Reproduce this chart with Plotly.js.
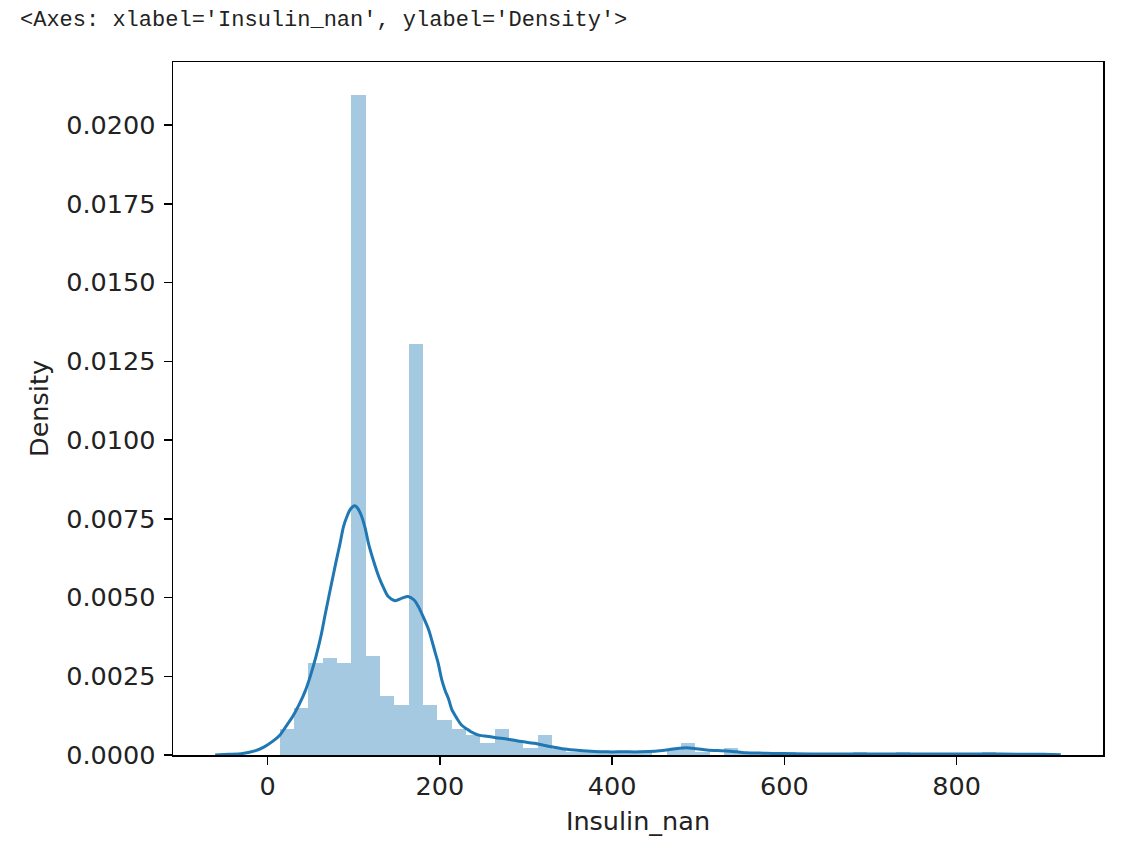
<!DOCTYPE html>
<html>
<head>
<meta charset="utf-8">
<script src="https://cdn.plot.ly/plotly-3.0.1.min.js"></script>
<style>
  html, body { margin: 0; padding: 0; background: #ffffff; }
  #chart { width: 1125px; height: 844px; }
</style>
</head>
<body>
<div id="chart"></div>
<script>
// Histogram (density) of Insulin_nan: 50 equal bins from 14 to 846
const binStart = 14;
const binEnd = 846;
const binDensity = [
  0.00083, 0.00148, 0.00291, 0.00307, 0.00291, 0.02095, 0.00314, 0.00188, 0.00159, 0.01305,
  0.00159, 0.00111, 0.00082, 0.00065, 0.00037, 0.00082, 0.00045, 0.00022, 0.00063, 0.00018,
  0.00010, 0.00016, 0.00008, 0.00008, 0.00008, 0.00008, 0.00000, 0.00016, 0.00039, 0.00008,
  0.00000, 0.00023, 0.00008, 0.00008, 0.00000, 0.00008, 0.00000, 0.00000, 0.00000, 0.00000,
  0.00008, 0.00000, 0.00000, 0.00008, 0.00000, 0.00000, 0.00000, 0.00000, 0.00000, 0.00008
];

// KDE curve
const kdeX = [-61, -45, -29, -15, -4, 6, 14, 21, 29, 37, 44, 50, 56, 62, 67, 73, 79, 84, 88, 92,
  96, 101, 104, 108, 113, 117, 123, 129, 135, 140, 148, 156, 163, 170, 175, 181, 187, 194, 198, 202,
  206, 210, 214, 220, 225, 231, 236, 244, 252, 265, 279, 295, 310, 329, 342, 356, 375, 394, 413, 433,
  450, 463, 476, 486, 498, 510, 522, 533, 545, 556, 570, 586, 609, 650, 700, 750, 800, 850, 900, 921];
const kdeY = [0.00000, 0.00002, 0.00005, 0.00013, 0.00026, 0.00044, 0.00063, 0.00090, 0.00122, 0.00163,
  0.00206, 0.00255, 0.00312, 0.00380, 0.00450, 0.00530, 0.00609, 0.00672, 0.00725, 0.00757,
  0.00780, 0.00791, 0.00785, 0.00765, 0.00722, 0.00672, 0.00615, 0.00566, 0.00528, 0.00503,
  0.00490, 0.00498, 0.00503, 0.00492, 0.00471, 0.00436, 0.00397, 0.00330, 0.00291, 0.00240,
  0.00205, 0.00178, 0.00143, 0.00115, 0.00095, 0.00083, 0.00074, 0.00064, 0.00060, 0.00055,
  0.00050, 0.00043, 0.00037, 0.00026, 0.00020, 0.00016, 0.00012, 0.00010, 0.00010, 0.00010,
  0.00012, 0.00016, 0.00021, 0.00023, 0.00020, 0.00016, 0.00014, 0.00013, 0.00010, 0.00007,
  0.00006, 0.00005, 0.00004, 0.00003, 0.00003, 0.00003, 0.00003, 0.00003, 0.00002, 0.00001];

const xTicks = [0, 200, 400, 600, 800];
const yTicks = [0, 0.0025, 0.005, 0.0075, 0.01, 0.0125, 0.015, 0.0175, 0.02];
const headerText = "<Axes: xlabel='Insulin_nan', ylabel='Density'>";
const xLabel = "Insulin_nan";
const yLabel = "Density";

const nBins = binDensity.length;
const binWidth = (binEnd - binStart) / nBins;
const binCenters = binDensity.map((_, i) => binStart + binWidth * (i + 0.5));

const bars = {
  type: 'bar',
  x: binCenters,
  y: binDensity,
  width: binWidth,
  marker: { color: 'rgba(31,119,180,0.4)', line: { width: 0 } },
  hoverinfo: 'skip',
  showlegend: false
};
const kde = {
  type: 'scatter',
  mode: 'lines',
  x: kdeX,
  y: kdeY,
  line: { color: '#1f77b4', width: 3, shape: 'spline', smoothing: 0.8 },
  hoverinfo: 'skip',
  showlegend: false
};

const axisFont = { family: 'DejaVu Sans', size: 25.5, color: '#222222' };

const layout = {
  width: 1125,
  height: 844,
  margin: { l: 173, r: 22, t: 62, b: 89 },
  paper_bgcolor: '#ffffff',
  plot_bgcolor: '#ffffff',
  bargap: 0,
  font: axisFont,
  xaxis: {
    range: [-110, 970],
    tickvals: xTicks,
    ticktext: xTicks.map(String),
    ticks: 'outside', ticklen: 8, tickwidth: 1.5, tickcolor: '#000',
    showline: true, mirror: true, linecolor: '#000', linewidth: 1.5,
    showgrid: false, zeroline: false,
    tickfont: axisFont,
    title: { text: xLabel, font: axisFont, standoff: 12 }
  },
  yaxis: {
    range: [0, 0.0220],
    tickvals: yTicks,
    ticktext: yTicks.map(v => v.toFixed(4)),
    ticks: 'outside', ticklen: 8, tickwidth: 1.5, tickcolor: '#000',
    ticklabelstandoff: 3,
    showline: true, mirror: true, linecolor: '#000', linewidth: 1.5,
    showgrid: false, zeroline: false,
    tickfont: axisFont,
    title: { text: yLabel, font: axisFont, standoff: 10 }
  },
  annotations: [{
    text: headerText.replace(/</g, '&lt;').replace(/>/g, '&gt;'),
    xref: 'paper', yref: 'paper',
    x: (18 - 173) / 930, y: 1 + (62 - 20) / 693,
    xanchor: 'left', yanchor: 'middle',
    showarrow: false,
    font: { family: 'Liberation Mono', size: 22, color: '#222222' }
  }]
};

Plotly.newPlot('chart', [bars, kde], layout, { staticPlot: true, displayModeBar: false });
</script>
</body>
</html>
